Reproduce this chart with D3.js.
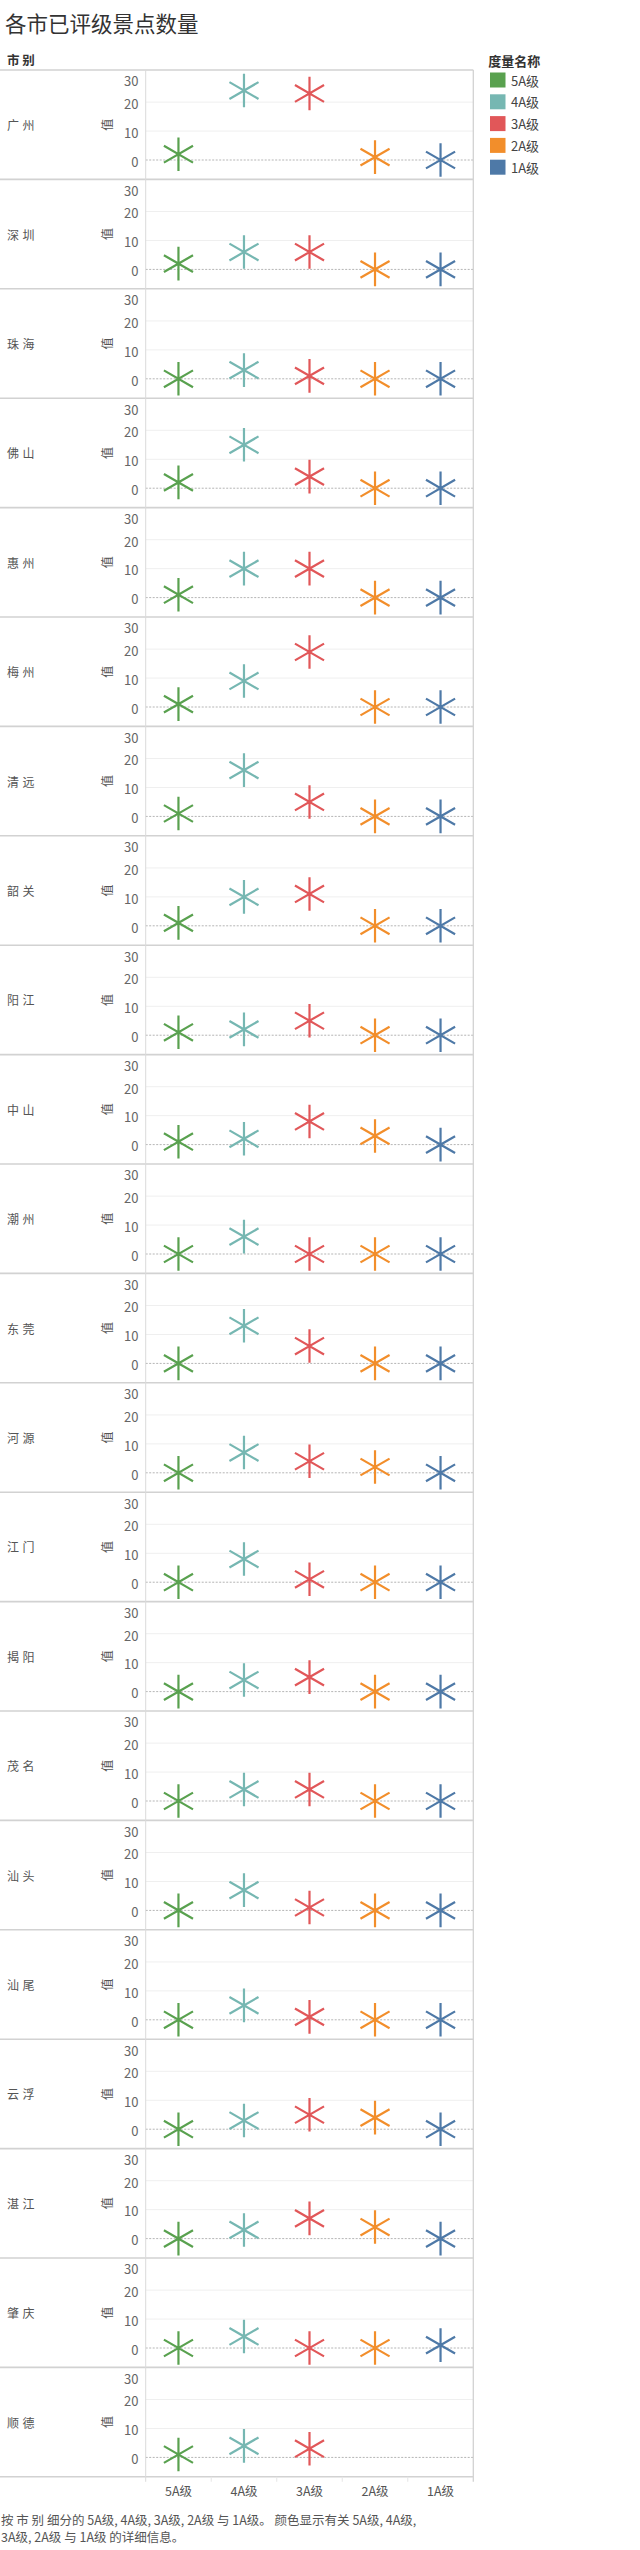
<!DOCTYPE html>
<html><head><meta charset="utf-8">
<script src="https://cdn.jsdelivr.net/npm/d3@7"></script>
<style>
html,body{margin:0;padding:0;background:#fff;}
svg{display:block;font-family:"Noto Sans CJK SC","Noto Sans",sans-serif;}
</style></head>
<body><svg id="c" width="640" height="2550"></svg>
<script>
const cities = ["广州","深圳","珠海","佛山","惠州","梅州","清远","韶关","阳江","中山","潮州","东莞","河源","江门","揭阳","茂名","汕头","汕尾","云浮","湛江","肇庆","顺德"];
const levels = ["5A级","4A级","3A级","2A级","1A级"];
const v5A = [2,2,0,2,1,1,1,1,1,1,0,0,0,0,0,0,0,0,0,0,0,1];
const v4A = [24,6,3,15,10,9,16,10,2,2,6,13,7,8,4,4,7,5,3,3,4,4];
const v3A = [23,6,1,4,10,19,5,11,5,8,0,6,4,1,5,4,1,1,5,7,0,3];
const v2A = [1,0,0,0,0,0,0,0,0,3,0,0,2,0,0,0,0,0,4,4,0,null];
const v1A = [0,0,0,0,0,0,0,0,0,0,0,0,0,0,0,0,0,0,0,0,1,null];
const yTicks = [0,10,20,30];
const colors = ["#59a14f","#76b7b2","#e15759","#f28e2b","#4e79a7"];
const series = [v5A,v4A,v3A,v2A,v1A];
const title = "各市已评级景点数量";
const rowHeaderTitle = "市 别";
const axisTitle = "值";
const legendTitle = "度量名称";
const captionLines = ["按 市 别 细分的 5A级, 4A级, 3A级, 2A级 与 1A级。 颜色显示有关 5A级, 4A级,","3A级, 2A级 与 1A级 的详细信息。"];

const svg = d3.select("#c");
svg.append("rect").attr("width",640).attr("height",2550).attr("fill","#fff");

const plotL = 145.7, plotR = 473.3, top0 = 70, bottom0 = 2476.8;
const x = d3.scaleBand().domain(levels).range([plotL, plotR]);
const row = d3.scaleBand().domain(cities).range([top0, bottom0]);
const color = d3.scaleOrdinal().domain(levels).range(colors);
const ph = row.bandwidth();

// title
svg.append("text").attr("x",5).attr("y",22.7).attr("dominant-baseline","central")
  .attr("font-size",21.5).attr("fill","#333").text(title);
svg.append("text").attr("x",7).attr("y",59.5).attr("dominant-baseline","central")
  .attr("font-size",12.5).attr("font-weight","bold").attr("fill","#333").text(rowHeaderTitle);

// asterisk path
const R = 16.8;
function asterisk(){
  const p = d3.path();
  for (const a of [90, 30, -30]) {
    const r = a*Math.PI/180;
    p.moveTo(-R*Math.cos(r), -R*Math.sin(r));
    p.lineTo(R*Math.cos(r), R*Math.sin(r));
  }
  return p.toString();
}
const starPath = asterisk();

cities.forEach((city, i) => {
  const t = row(city);
  const y = d3.scaleLinear().domain([-6.7, 31.1]).range([t+ph, t]);
  const g = svg.append("g");
  // gridlines
  g.append("g").selectAll("line").data(yTicks.filter(d=>d>0 && d<30)).join("line")
    .attr("x1",plotL).attr("x2",plotR).attr("y1",d=>y(d)).attr("y2",d=>y(d))
    .attr("stroke","#efefef").attr("stroke-width",1);
  // zero line
  g.append("line").attr("x1",plotL).attr("x2",plotR).attr("y1",y(0)).attr("y2",y(0))
    .attr("stroke","#b5b5b5").attr("stroke-width",1).attr("stroke-dasharray","2,1.5");
  // y axis labels
  const ax = d3.axisLeft(y).tickValues(yTicks).tickSize(0).tickPadding(0);
  const ag = g.append("g").attr("transform",`translate(138.5,0)`).call(ax);
  ag.select(".domain").remove();
  ag.selectAll("text").attr("font-size",13).attr("fill","#666")
    .attr("font-family",'"Noto Sans CJK SC","Noto Sans",sans-serif')
    .attr("dy",null).attr("dominant-baseline","central")
    .attr("y",d => Math.max(y(d), t+9.5) - y(d) + 0.8);
  // city label
  g.append("text").attr("x",7).attr("y",t+ph/2).attr("dominant-baseline","central")
    .attr("font-size",12).attr("fill","#555").attr("letter-spacing","3.5px").text(city);
  // axis title
  g.append("text").attr("transform",`translate(106,${t+ph/2}) rotate(-90)`)
    .attr("text-anchor","middle").attr("dominant-baseline","central")
    .attr("font-size",12).attr("fill","#555").text(axisTitle);
  // marks
  const data = levels.map((lv,k)=>({lv, v: series[k][i]})).filter(d=>d.v!==null);
  g.append("g").selectAll("path").data(data).join("path")
    .attr("d",starPath)
    .attr("transform",d=>`translate(${x(d.lv)+x.bandwidth()/2},${y(d.v)})`)
    .attr("fill","none").attr("stroke",d=>color(d.lv)).attr("stroke-width",2.2);
  // separator
  svg.append("line").attr("x1",0).attr("x2",plotR).attr("y1",t).attr("y2",t)
    .attr("stroke","#d2d2d2").attr("stroke-width",1.6);
});
// bottom border
svg.append("line").attr("x1",0).attr("x2",plotR).attr("y1",bottom0).attr("y2",bottom0)
  .attr("stroke","#d2d2d2").attr("stroke-width",1.6);
// plot vertical borders
svg.append("line").attr("x1",plotL).attr("x2",plotL).attr("y1",top0).attr("y2",bottom0+5)
  .attr("stroke","#dadada").attr("stroke-width",1);
svg.append("line").attr("x1",plotR).attr("x2",plotR).attr("y1",top0).attr("y2",bottom0+5)
  .attr("stroke","#d2d2d2").attr("stroke-width",1.3);
// column separators under plot
svg.append("g").selectAll("line").data(levels.slice(1)).join("line")
  .attr("x1",d=>x(d)).attr("x2",d=>x(d)).attr("y1",bottom0).attr("y2",bottom0+5)
  .attr("stroke","#e6e6e6").attr("stroke-width",1);

// bottom axis
const bx = d3.axisBottom(x).tickSize(0).tickPadding(0);
const bg = svg.append("g").attr("transform",`translate(0,${bottom0})`).call(bx);
bg.select(".domain").remove();
bg.selectAll("text").attr("font-size",12.5).attr("fill","#555")
  .attr("font-family",'"Noto Sans CJK SC","Noto Sans",sans-serif')
  .attr("dy",null).attr("y",14).attr("dominant-baseline","central");

// caption
svg.append("g").selectAll("text").data(captionLines).join("text")
  .attr("x",1).attr("y",(d,i)=>2519+i*17.7).attr("dominant-baseline","central")
  .attr("font-size",12.5).attr("fill","#555").text(d=>d);

// legend
svg.append("text").attr("x",488.3).attr("y",60).attr("dominant-baseline","central")
  .attr("font-size",13).attr("font-weight","bold").attr("fill","#333").text(legendTitle);
const lg = svg.append("g").selectAll("g").data(levels).join("g")
  .attr("transform",(d,i)=>`translate(490,${80 + i*21.8})`);
lg.append("rect").attr("x",0).attr("y",-7.5).attr("width",15.5).attr("height",15).attr("fill",d=>color(d));
lg.append("text").attr("x",21).attr("y",0).attr("dominant-baseline","central")
  .attr("font-size",13).attr("fill","#444").text(d=>d);
</script></body></html>
